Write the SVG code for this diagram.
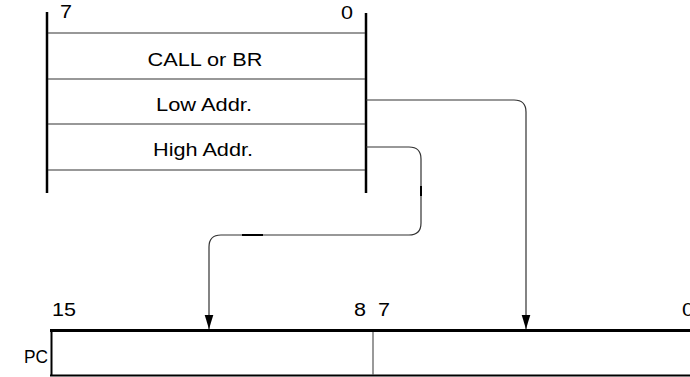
<svg xmlns="http://www.w3.org/2000/svg" width="690" height="377" viewBox="0 0 690 377">
<defs>
<style>
text{font-family:"Liberation Sans",Arial,sans-serif;font-size:18px;fill:#000}
.c{text-anchor:middle}
.bar{stroke:#000;stroke-width:2.5;fill:none}
.row{stroke:#333;stroke-width:1.2;fill:none}
.conn{stroke:#333;stroke-width:1.2;fill:none}
</style>
<marker id="ah" markerUnits="userSpaceOnUse" markerWidth="14" markerHeight="10" refX="13" refY="4" orient="auto" viewBox="0 0 13 8">
<path d="M0,0 L13,4 L0,8 Z" fill="#000"/>
</marker>
</defs>
<rect width="690" height="377" fill="#fff"/>
<g id="memory">
<line class="bar" x1="47" y1="12" x2="47" y2="193"/>
<line class="bar" x1="366" y1="13" x2="366" y2="193"/>
<line class="row" x1="48" y1="33" x2="365" y2="33"/>
<line class="row" x1="48" y1="79" x2="365" y2="79"/>
<line class="row" x1="48" y1="124" x2="365" y2="124"/>
<line class="row" x1="48" y1="170" x2="365" y2="170"/>
<text x="60" y="18" textLength="12" lengthAdjust="spacingAndGlyphs">7</text>
<text x="341" y="19" textLength="12" lengthAdjust="spacingAndGlyphs">0</text>
<text class="c" x="205" y="66" textLength="115" lengthAdjust="spacingAndGlyphs">CALL or BR</text>
<text class="c" x="204" y="111" textLength="96" lengthAdjust="spacingAndGlyphs">Low Addr.</text>
<text class="c" x="203" y="156" textLength="100" lengthAdjust="spacingAndGlyphs">High Addr.</text>
</g>
<g id="pc">
<line x1="50" y1="330.5" x2="690" y2="330.5" stroke="#000" stroke-width="3"/>
<line x1="50" y1="375.5" x2="690" y2="375.5" stroke="#000" stroke-width="2"/>
<line x1="51.5" y1="330" x2="51.5" y2="376" stroke="#000" stroke-width="2"/>
<line x1="373" y1="332" x2="373" y2="375" stroke="#555" stroke-width="1.2"/>
<text x="24" y="363" textLength="24" lengthAdjust="spacingAndGlyphs">PC</text>
<text x="52" y="316" textLength="24" lengthAdjust="spacingAndGlyphs">15</text>
<text x="354" y="316" textLength="12" lengthAdjust="spacingAndGlyphs">8</text>
<text x="378" y="316" textLength="12" lengthAdjust="spacingAndGlyphs">7</text>
<text x="682" y="316" textLength="12" lengthAdjust="spacingAndGlyphs">0</text>
</g>
<g id="connectors">
<path class="conn" d="M366,100 H514 Q526,100 526,112 V329" marker-end="url(#ah)"/>
<path class="conn" d="M366,147 H409 Q421,147 421,159 V223 Q421,235 409,235 H221 Q209,235 209,247 V329" marker-end="url(#ah)"/>
<line x1="421" y1="186" x2="421" y2="196" stroke="#000" stroke-width="2"/>
<line x1="242" y1="235" x2="263" y2="235" stroke="#000" stroke-width="2"/>
</g>
</svg>
